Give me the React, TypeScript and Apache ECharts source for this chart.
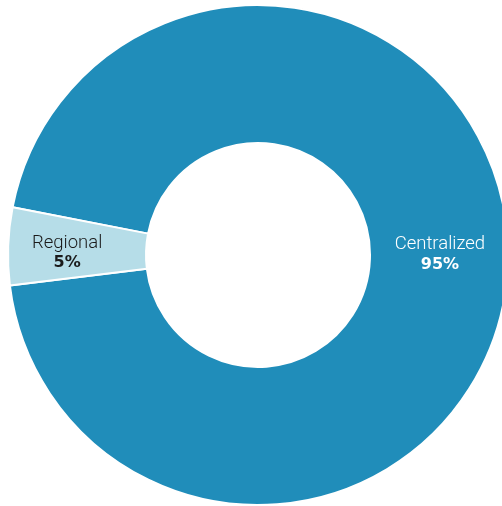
import React, { useEffect, useRef } from "react";
import * as echarts from "echarts";

const categories = ["Centralized", "Regional"];
const values = [95, 5];

export default function App() {
  const ref = useRef<HTMLDivElement>(null);
  useEffect(() => {
    if (!ref.current) return;
    const chart = echarts.init(ref.current, undefined, { renderer: "svg" });
    const colors = ["#208dba", "#b6dde8"];
    const labelColors = ["#ffffff", "#1a1a1a"];
    const offsets = [
      [-2, -8],
      [-7, 3],
    ];
    chart.setOption({
      animation: false,
      series: [
        {
          type: "pie",
          center: [258, 255],
          radius: [112, 250],
          startAngle: 169,
          clockwise: true,
          avoidLabelOverlap: false,
          itemStyle: { borderColor: "#ffffff", borderWidth: 2 },
          label: {
            show: true,
            position: "inside",
            formatter: (p: any) => `{n|${p.name}}\n{v|${p.value}%}`,
          },
          labelLine: { show: false },
          emphasis: { disabled: true },
          data: categories.map((c, i) => ({
            name: c,
            value: values[i],
            itemStyle: { color: colors[i] },
            label: {
              offset: offsets[i],
              rich: {
                n: {
                  fontFamily: "Roboto",
                  fontSize: 18.5,
                  fontWeight: 300,
                  color: labelColors[i],
                  lineHeight: 20,
                  align: "center",
                },
                v: {
                  fontFamily: "DejaVu Sans",
                  fontSize: 16,
                  fontWeight: "bold",
                  color: labelColors[i],
                  lineHeight: 20,
                  align: "center",
                },
              },
            },
          })),
        },
      ],
    });
    return () => chart.dispose();
  }, []);
  return (
    <div
      ref={ref}
      style={{ position: "fixed", left: 0, top: 0, width: 502, height: 506 }}
    />
  );
}
